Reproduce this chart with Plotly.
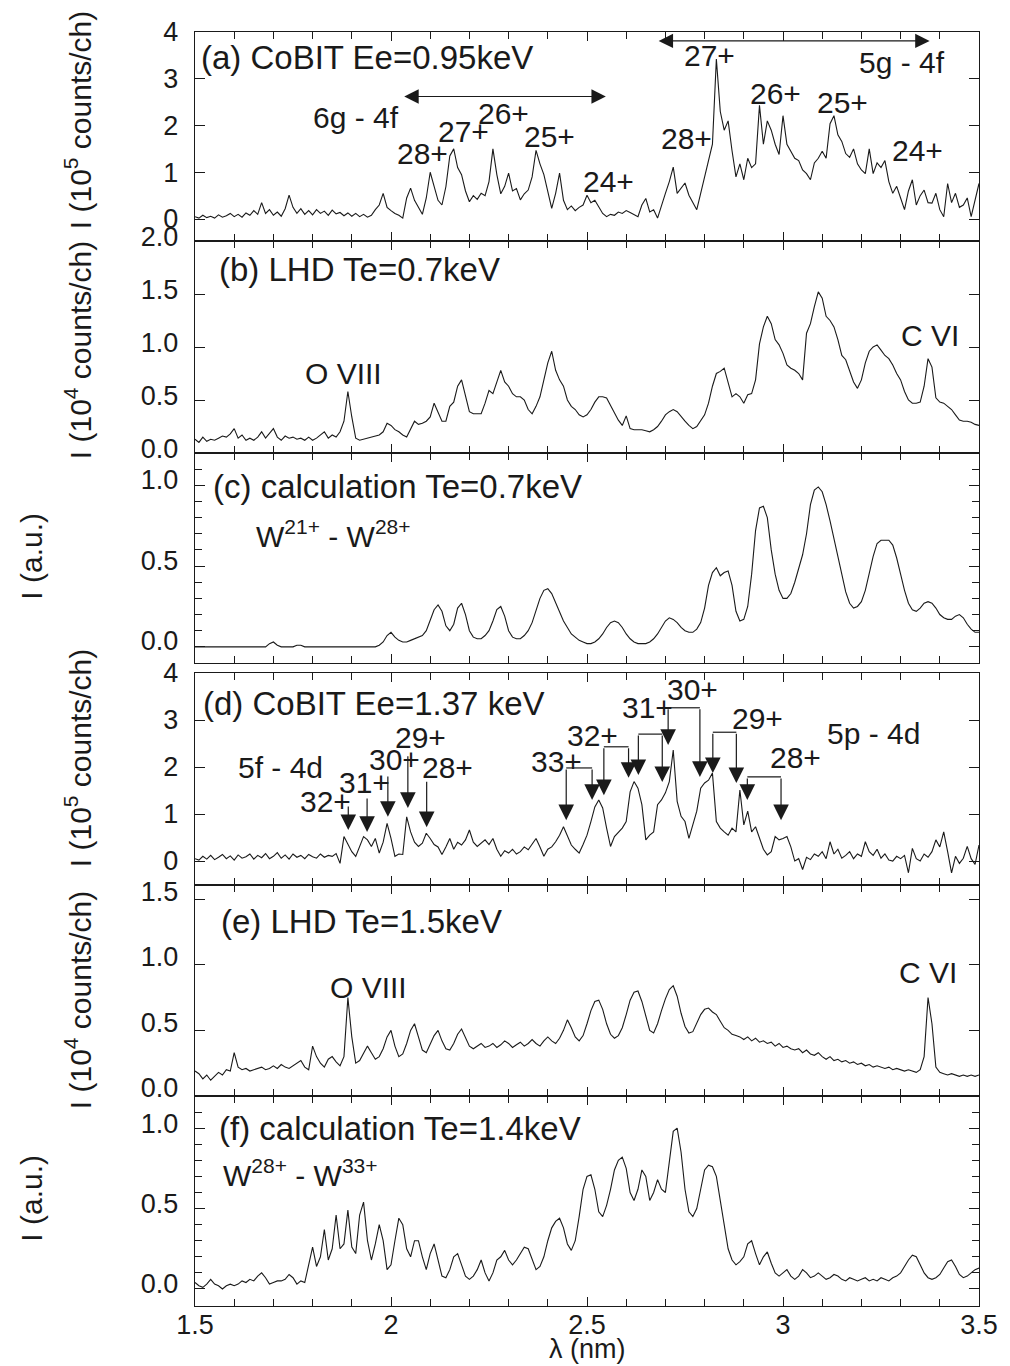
import plotly.graph_objects as go
import numpy as np

# ---------------- data ----------------
wl_start, wl_step, n_pts = 1.50, 0.01, 201
wavelength = np.round(wl_start + wl_step * np.arange(n_pts), 2)

cobit_095 = [
 0.05,0.02,0.08,0.03,0.06,0.02,0.09,0.04,0.07,0.12,
 0.05,0.10,0.04,0.13,0.08,0.18,0.10,0.35,0.12,0.20,
 0.08,0.15,0.06,0.22,0.51,0.25,0.12,0.22,0.10,0.18,
 0.09,0.20,0.12,0.17,0.08,0.19,0.11,0.14,0.07,0.13,
 0.06,0.12,0.05,0.10,0.04,0.08,0.20,0.30,0.55,0.25,
 0.18,0.12,0.08,0.02,0.45,0.66,0.40,0.25,0.10,0.45,
 1.00,0.70,0.40,0.30,0.69,1.35,1.50,1.10,0.95,0.60,
 0.37,0.50,0.42,0.55,0.50,0.80,1.50,0.95,0.54,0.70,
 0.98,0.60,0.65,0.41,0.54,0.62,0.90,1.47,1.18,0.95,
 0.60,0.23,0.55,0.98,0.40,0.20,0.28,0.18,0.25,0.30,
 0.51,0.35,0.40,0.25,0.12,0.05,0.10,0.08,0.15,0.12,
 0.18,0.14,0.10,0.05,0.30,0.44,0.15,0.20,0.02,0.30,
 0.55,0.80,1.11,0.55,0.65,0.77,0.51,0.35,0.20,0.55,
 0.90,1.20,1.60,3.42,2.30,1.90,2.10,1.46,0.90,1.18,
 0.84,1.30,1.10,1.18,2.43,1.60,2.10,1.90,1.60,1.38,
 2.21,1.60,1.45,1.30,1.25,1.05,0.97,0.84,1.20,1.30,
 1.45,1.30,2.04,2.21,1.80,1.66,1.40,1.32,1.50,1.18,
 1.05,0.97,1.50,0.97,1.20,1.10,1.25,0.80,0.55,0.70,
 0.45,0.20,0.60,0.84,0.30,0.50,0.62,0.35,0.34,0.55,
 0.20,0.05,0.76,0.35,0.55,0.25,0.30,0.45,0.05,0.40,
 0.76]

lhd_07 = [
 0.13,0.10,0.15,0.11,0.13,0.12,0.14,0.16,0.15,0.18,
 0.23,0.14,0.17,0.12,0.14,0.12,0.15,0.20,0.14,0.18,
 0.23,0.15,0.12,0.16,0.14,0.15,0.13,0.14,0.12,0.15,
 0.12,0.14,0.17,0.20,0.14,0.17,0.15,0.20,0.30,0.58,
 0.34,0.14,0.12,0.13,0.14,0.15,0.16,0.17,0.20,0.28,
 0.26,0.22,0.20,0.17,0.15,0.22,0.30,0.27,0.28,0.30,
 0.34,0.47,0.39,0.30,0.30,0.44,0.48,0.63,0.69,0.55,
 0.39,0.37,0.37,0.37,0.47,0.59,0.56,0.66,0.78,0.67,
 0.63,0.56,0.53,0.53,0.50,0.41,0.37,0.44,0.53,0.69,
 0.85,0.96,0.78,0.69,0.63,0.50,0.44,0.41,0.36,0.34,
 0.36,0.41,0.48,0.53,0.53,0.52,0.45,0.37,0.31,0.26,
 0.35,0.23,0.22,0.22,0.22,0.21,0.20,0.22,0.25,0.30,
 0.36,0.39,0.41,0.39,0.34,0.30,0.26,0.23,0.25,0.30,
 0.36,0.47,0.63,0.75,0.77,0.80,0.66,0.53,0.56,0.53,
 0.47,0.55,0.56,0.69,1.03,1.19,1.29,1.22,1.07,1.02,
 0.94,0.83,0.80,0.78,0.75,0.69,1.13,1.22,1.38,1.52,
 1.46,1.29,1.25,1.19,1.07,0.92,0.88,0.78,0.67,0.61,
 0.69,0.85,0.96,1.00,1.02,0.97,0.92,0.89,0.83,0.75,
 0.69,0.58,0.50,0.47,0.47,0.48,0.63,0.89,0.81,0.52,
 0.48,0.47,0.44,0.41,0.36,0.31,0.30,0.30,0.29,0.27,
 0.26]

calc_07 = [
 0.00,0.00,0.00,0.00,0.00,0.00,0.00,0.00,0.00,0.00,
 0.00,0.00,0.00,0.00,0.00,0.00,0.00,0.00,0.00,0.02,
 0.03,0.01,0.00,0.00,0.00,0.00,0.01,0.01,0.00,0.00,
 0.00,0.00,0.00,0.00,0.00,0.00,0.00,0.00,0.00,0.00,
 0.00,0.00,0.00,0.00,0.00,0.00,0.00,0.01,0.03,0.07,
 0.09,0.06,0.04,0.03,0.03,0.04,0.05,0.06,0.07,0.10,
 0.16,0.23,0.26,0.22,0.13,0.10,0.14,0.24,0.27,0.20,
 0.10,0.06,0.05,0.05,0.07,0.10,0.16,0.23,0.25,0.19,
 0.10,0.06,0.05,0.05,0.07,0.10,0.15,0.22,0.30,0.35,
 0.36,0.33,0.27,0.21,0.16,0.12,0.08,0.06,0.04,0.03,
 0.02,0.02,0.03,0.05,0.08,0.12,0.15,0.16,0.15,0.12,
 0.08,0.05,0.03,0.02,0.02,0.02,0.03,0.05,0.08,0.12,
 0.16,0.18,0.17,0.15,0.12,0.10,0.09,0.09,0.11,0.15,
 0.24,0.38,0.46,0.49,0.44,0.46,0.47,0.38,0.22,0.16,
 0.17,0.25,0.45,0.72,0.86,0.87,0.80,0.60,0.45,0.35,
 0.30,0.30,0.33,0.40,0.48,0.57,0.70,0.88,0.97,0.99,
 0.96,0.88,0.78,0.67,0.55,0.44,0.34,0.27,0.24,0.25,
 0.28,0.35,0.45,0.56,0.64,0.66,0.66,0.66,0.63,0.55,
 0.45,0.35,0.27,0.23,0.22,0.24,0.27,0.28,0.27,0.24,
 0.20,0.18,0.17,0.17,0.19,0.20,0.18,0.14,0.11,0.09,
 0.09]

cobit_137 = [
 0.05,0.02,0.10,0.04,0.12,0.03,0.08,0.14,0.05,0.11,
 0.02,0.13,0.06,0.09,0.15,0.04,0.12,0.07,0.16,0.05,
 0.10,0.18,0.06,0.13,0.04,0.15,0.08,0.12,0.05,0.14,
 0.09,0.06,0.15,0.08,0.12,0.10,0.16,-0.05,0.52,0.35,
 0.20,0.10,0.30,0.52,0.45,0.31,0.48,0.17,0.40,0.80,
 0.48,0.10,0.15,0.14,0.94,0.62,0.40,0.31,0.38,0.59,
 0.48,0.35,0.30,0.14,0.30,0.48,0.25,0.40,0.34,0.45,
 0.66,0.40,0.31,0.38,0.45,0.35,0.48,0.25,0.10,0.22,
 0.17,0.25,0.15,0.20,0.30,0.24,0.35,0.48,0.30,0.10,
 0.25,0.30,0.41,0.55,0.73,0.55,0.34,0.25,0.17,0.35,
 0.55,0.84,1.15,1.30,1.13,0.70,0.31,0.52,0.60,0.70,
 0.84,1.47,1.69,1.55,1.20,0.45,0.55,0.62,1.20,1.30,
 1.45,1.69,2.36,1.27,0.95,0.84,0.48,0.75,1.06,1.55,
 1.66,1.72,1.87,0.84,0.70,0.62,0.55,0.70,0.62,1.51,
 0.77,1.06,0.62,0.73,0.50,0.25,0.13,0.20,0.52,0.45,
 0.48,0.52,0.30,0.00,0.05,-0.18,0.08,0.03,0.15,0.10,
 0.20,0.05,0.41,0.15,0.25,0.06,0.12,0.20,0.05,0.15,
 0.10,0.41,0.20,0.12,0.25,0.06,0.15,0.02,0.00,0.10,
 0.05,0.12,-0.25,0.27,0.05,0.00,0.15,0.08,0.20,0.45,
 0.30,0.62,0.20,-0.25,0.10,-0.05,0.06,0.31,0.05,-0.07,
 0.34]

lhd_15 = [
 0.19,0.17,0.13,0.16,0.12,0.15,0.18,0.16,0.20,0.19,
 0.33,0.22,0.20,0.21,0.19,0.20,0.21,0.22,0.20,0.21,
 0.23,0.21,0.24,0.22,0.21,0.23,0.25,0.27,0.22,0.20,
 0.38,0.30,0.25,0.22,0.28,0.30,0.26,0.23,0.30,0.75,
 0.45,0.25,0.27,0.33,0.38,0.33,0.28,0.30,0.36,0.45,
 0.50,0.38,0.30,0.32,0.40,0.50,0.55,0.45,0.35,0.33,
 0.40,0.46,0.50,0.42,0.36,0.35,0.40,0.47,0.51,0.44,
 0.38,0.36,0.38,0.40,0.37,0.38,0.40,0.37,0.39,0.42,
 0.40,0.37,0.39,0.41,0.38,0.40,0.43,0.40,0.38,0.42,
 0.45,0.42,0.40,0.44,0.50,0.58,0.52,0.45,0.42,0.46,
 0.55,0.65,0.72,0.73,0.66,0.55,0.47,0.44,0.46,0.52,
 0.62,0.73,0.79,0.80,0.72,0.60,0.50,0.48,0.55,0.65,
 0.74,0.81,0.84,0.76,0.63,0.53,0.48,0.49,0.55,0.62,
 0.66,0.67,0.64,0.62,0.57,0.52,0.50,0.47,0.46,0.45,
 0.43,0.45,0.42,0.44,0.41,0.42,0.40,0.41,0.38,0.40,
 0.37,0.38,0.36,0.35,0.36,0.33,0.35,0.32,0.31,0.33,
 0.30,0.28,0.30,0.27,0.28,0.26,0.27,0.25,0.26,0.24,
 0.25,0.23,0.24,0.22,0.23,0.22,0.21,0.22,0.20,0.21,
 0.20,0.19,0.20,0.19,0.18,0.20,0.30,0.75,0.55,0.22,
 0.18,0.17,0.16,0.17,0.16,0.15,0.16,0.15,0.16,0.15,
 0.16]

calc_14 = [
 0.04,0.02,0.01,0.03,0.06,0.03,0.02,0.00,0.02,0.03,
 0.02,0.03,0.05,0.04,0.06,0.05,0.08,0.10,0.07,0.03,
 0.04,0.05,0.05,0.06,0.09,0.07,0.03,0.05,0.04,0.15,
 0.26,0.14,0.20,0.37,0.18,0.25,0.46,0.25,0.28,0.49,
 0.26,0.22,0.46,0.54,0.30,0.18,0.28,0.40,0.30,0.12,
 0.15,0.30,0.44,0.40,0.25,0.20,0.30,0.30,0.20,0.12,
 0.22,0.28,0.18,0.08,0.07,0.12,0.20,0.22,0.15,0.08,
 0.06,0.08,0.12,0.18,0.10,0.05,0.10,0.18,0.20,0.24,
 0.18,0.15,0.18,0.22,0.26,0.25,0.18,0.12,0.14,0.20,
 0.30,0.38,0.42,0.44,0.38,0.28,0.24,0.30,0.45,0.62,
 0.70,0.71,0.62,0.48,0.45,0.52,0.62,0.74,0.80,0.82,
 0.75,0.60,0.55,0.62,0.74,0.70,0.55,0.60,0.68,0.62,
 0.60,0.80,0.98,1.00,0.85,0.62,0.48,0.45,0.50,0.62,
 0.74,0.77,0.76,0.70,0.55,0.38,0.25,0.18,0.15,0.17,
 0.20,0.28,0.30,0.22,0.15,0.20,0.23,0.16,0.10,0.08,
 0.10,0.12,0.08,0.06,0.08,0.12,0.10,0.07,0.08,0.10,
 0.08,0.06,0.07,0.09,0.08,0.06,0.05,0.07,0.06,0.05,
 0.06,0.07,0.05,0.06,0.05,0.07,0.06,0.05,0.07,0.08,
 0.10,0.14,0.18,0.21,0.20,0.15,0.10,0.07,0.06,0.07,
 0.09,0.13,0.17,0.18,0.14,0.09,0.07,0.08,0.10,0.12,
 0.13]

series = [cobit_095, lhd_07, calc_07, cobit_137, lhd_15, calc_14]

# y tick labels per panel
ytick_vals = [[0, 1, 2, 3, 4], [0, 0.5, 1.0, 1.5, 2.0], [0, 0.5, 1.0],
              [0, 1, 2, 3, 4], [0, 0.5, 1.0, 1.5], [0, 0.5, 1.0]]
ytick_text = [["0", "1", "2", "3", "4"], ["0.0", "0.5", "1.0", "1.5", "2.0"],
              ["0.0", "0.5", "1.0"], ["0", "1", "2", "3", "4"],
              ["0.0", "0.5", "1.0", "1.5"], ["0.0", "0.5", "1.0"]]
xtick_vals = [1.5, 2, 2.5, 3, 3.5]
xtick_text = ["1.5", "2", "2.5", "3", "3.5"]

panel_titles = ["(a) CoBIT Ee=0.95keV", "(b) LHD Te=0.7keV", "(c) calculation Te=0.7keV",
                "(d) CoBIT Ee=1.37 keV", "(e) LHD Te=1.5keV", "(f) calculation Te=1.4keV"]
ytitles = ["I (10<sup>5</sup> counts/ch)", "I (10<sup>4</sup> counts/ch)", "I (a.u.)",
           "I (10<sup>5</sup> counts/ch)", "I (10<sup>4</sup> counts/ch)", "I (a.u.)"]

# ---------------- layout geometry (pixels) ----------------
W, H = 1010, 1366
L, R, T, B = 195, 987, 32, 1306
panel_px = [(32, 241), (241, 453), (453, 663), (673, 885), (885, 1096), (1096, 1306)]
yranges = [[-0.47, 4.0], [0.0, 2.0], [-0.1, 1.2], [-0.51, 4.0], [0.0, 1.607], [-0.106, 1.2]]
yminor = [None, None, 0.1, None, None, 0.1]
ylabel_lift = [0, 4, 6, 0, 8, 5]
title_pos = [(1.511, 3.45), (1.556, 1.73), (1.541, 0.99), (1.516, 3.36), (1.561, 1.33), (1.556, 1.0)]
ytitle_px = [(77, 120), (77, 350), (29, 556), (77, 758), (77, 1000), (29, 1198)]


def py2p(py):
    return (B - py) / (B - T)


def px2p(px):
    return (px - L) / (R - L)


FONT = "Liberation Sans, Arial, Helvetica, sans-serif"
INK = "#1a1a1a"

fig = go.Figure()
layout = dict(width=W, height=H, margin=dict(l=L, r=W - R, t=T, b=H - B),
              paper_bgcolor="white", plot_bgcolor="white", showlegend=False,
              font=dict(family=FONT, size=27, color=INK))
annotations = []
shapes = []

for i, (ys, (ptop, pbot)) in enumerate(zip(series, panel_px), start=1):
    sfx = "" if i == 1 else str(i)
    fig.add_trace(go.Scatter(x=wavelength, y=ys, mode="lines",
                             line=dict(color=INK, width=1.1),
                             xaxis="x" + sfx, yaxis="y" + sfx, hoverinfo="skip"))
    layout["xaxis" + sfx] = dict(
        domain=[0, 1], range=[1.5, 3.5], anchor="y" + sfx,
        showline=True, mirror="ticks", linecolor=INK, linewidth=1.4,
        ticks="inside", ticklen=9, tickwidth=1.2, tickcolor=INK,
        tickmode="array", tickvals=xtick_vals, ticktext=xtick_text,
        minor=dict(tickmode="linear", tick0=1.5, dtick=0.1, ticks="inside",
                   ticklen=7, tickwidth=1.2, tickcolor=INK),
        showticklabels=(i == 6), ticklabelstandoff=-6,
        tickfont=dict(size=27, family=FONT, color=INK),
        showgrid=False, zeroline=False, fixedrange=True)
    ya = dict(
        domain=[py2p(pbot), py2p(ptop)], range=yranges[i - 1], anchor="x" + sfx,
        showline=True, mirror="ticks", linecolor=INK, linewidth=1.4,
        ticks="inside", ticklen=10, tickwidth=1.2, tickcolor=INK,
        tickmode="array", tickvals=ytick_vals[i - 1], ticktext=ytick_text[i - 1],
        ticklabelstandoff=10, ticklabelshift=-ylabel_lift[i - 1],
        tickfont=dict(size=27, family=FONT, color=INK),
        showgrid=False, zeroline=False, fixedrange=True)
    if yminor[i - 1]:
        ya["minor"] = dict(tickmode="linear", tick0=0, dtick=yminor[i - 1], ticks="inside",
                           ticklen=7, tickwidth=1.2, tickcolor=INK)
    layout["yaxis" + sfx] = ya

    tx, ty = title_pos[i - 1]
    annotations.append(dict(x=tx, y=ty, xref="x" + sfx, yref="y" + sfx, text=panel_titles[i - 1],
                            showarrow=False, xanchor="left", yanchor="middle",
                            font=dict(size=33, family=FONT, color=INK)))
    axp, ayp = ytitle_px[i - 1]
    annotations.append(dict(x=px2p(axp), y=py2p(ayp), xref="paper", yref="paper",
                            text=ytitles[i - 1], textangle=-90, showarrow=False,
                            xanchor="center", yanchor="middle",
                            font=dict(size=30, family=FONT, color=INK)))

# ---------------- text labels inside panels (x in nm, y in panel units) ----------------
labels = [
    # panel a
    (1, "6g - 4f", 1.795, 2.17, "left"),
    (1, "28+", 2.081, 1.40, "center"), (1, "27+", 2.184, 1.87, "center"),
    (1, "26+", 2.288, 2.26, "center"), (1, "25+", 2.404, 1.77, "center"),
    (1, "24+", 2.556, 0.81, "center"), (1, "27+", 2.813, 3.49, "center"),
    (1, "5g - 4f", 3.303, 3.34, "center"), (1, "28+", 2.755, 1.72, "center"),
    (1, "26+", 2.982, 2.68, "center"), (1, "25+", 3.152, 2.49, "center"),
    (1, "24+", 3.343, 1.47, "center"),
    # panel b
    (2, "O VIII", 1.879, 0.75, "center"), (2, "C VI", 3.376, 1.11, "center"),
    # panel c
    (3, "W<sup>21+</sup> - W<sup>28+</sup>", 1.650, 0.70, "left"),
    # panel d
    (4, "5f - 4d", 1.717, 2.0, "center"), (4, "32+", 1.833, 1.26, "center"),
    (4, "31+", 1.932, 1.68, "center"), (4, "30+", 2.008, 2.15, "center"),
    (4, "29+", 2.076, 2.62, "center"), (4, "28+", 2.144, 2.0, "center"),
    (4, "33+", 2.422, 2.11, "center"), (4, "32+", 2.515, 2.66, "center"),
    (4, "31+", 2.654, 3.26, "center"), (4, "30+", 2.770, 3.64, "center"),
    (4, "29+", 2.934, 3.04, "center"), (4, "28+", 3.033, 2.21, "center"),
    (4, "5p - 4d", 3.230, 2.72, "center"),
    # panel e
    (5, "O VIII", 1.942, 0.83, "center"), (5, "C VI", 3.369, 0.94, "center"),
    # panel f
    (6, "W<sup>28+</sup> - W<sup>33+</sup>", 1.566, 0.72, "left"),
]
for pnl, txt, x, y, anc in labels:
    sfx = "" if pnl == 1 else str(pnl)
    annotations.append(dict(x=x, y=y, xref="x" + sfx, yref="y" + sfx, text=txt,
                            showarrow=False, xanchor=anc, yanchor="middle",
                            font=dict(size=30, family=FONT, color=INK)))

# double-headed range arrows in panel a: (x_left, x_right, y)
range_arrows = [(2.03, 2.548, 2.62), (2.679, 3.374, 3.81)]
for x0, x1, y in range_arrows:
    annotations.append(dict(x=x1, y=y, ax=x0, ay=y, xref="x", yref="y", axref="x", ayref="y",
                            text="", showarrow=True, arrowside="end+start",
                            arrowhead=2, startarrowhead=2, arrowsize=2.4, startarrowsize=2.4,
                            arrowwidth=1.2, arrowcolor=INK))

# panel d single arrows: (x, y_tail, y_head)
d_arrows = [(1.891, 1.19, 0.66), (1.939, 1.36, 0.62), (1.992, 1.83, 0.94),
            (2.043, 2.26, 1.13), (2.091, 1.72, 0.72)]
# panel d bracket arrows: (x_left, x_right, y_bracket, y_head_left, y_head_right)
d_brackets = [(2.447, 2.513, 1.98, 0.87, 1.30), (2.543, 2.606, 2.43, 1.40, 1.77),
              (2.631, 2.692, 2.70, 1.83, 1.68), (2.707, 2.788, 3.26, 2.47, 1.79),
              (2.821, 2.881, 2.74, 1.87, 1.66), (2.909, 2.995, 1.79, 1.30, 0.87)]


def down_arrow(x, ytail, yhead):
    return dict(x=x, y=yhead, ax=x, ay=ytail, xref="x4", yref="y4", axref="x4", ayref="y4",
                text="", showarrow=True, arrowhead=2, arrowsize=2.6, arrowwidth=1.2,
                arrowcolor=INK)


for x, yt, yh in d_arrows:
    annotations.append(down_arrow(x, yt, yh))
for xl, xr, yb, yhl, yhr in d_brackets:
    shapes.append(dict(type="line", xref="x4", yref="y4", x0=xl, x1=xr, y0=yb, y1=yb,
                       line=dict(color=INK, width=1.2)))
    annotations.append(down_arrow(xl, yb, yhl))
    annotations.append(down_arrow(xr, yb, yhr))

# x-axis title
annotations.append(dict(x=px2p(592), y=py2p(1349), xref="paper", yref="paper",
                        text="λ (nm)", showarrow=False, xanchor="center", yanchor="middle",
                        font=dict(size=27, family=FONT, color=INK)))

layout["annotations"] = annotations
layout["shapes"] = shapes
fig.update_layout(**layout)
fig.write_html("out.html")
